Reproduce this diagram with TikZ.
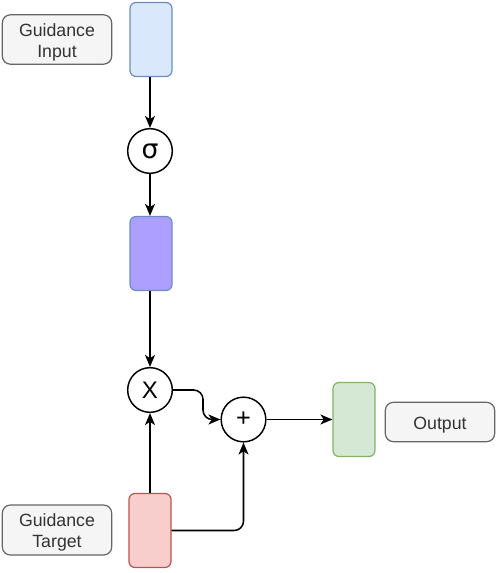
\documentclass[tikz,border=0pt]{standalone}
\usepackage{fontspec}
\setmainfont{Liberation Sans}
\newfontfamily\symfont{DejaVu Sans}
\usetikzlibrary{arrows.meta}
\definecolor{lblfill}{HTML}{F5F5F5}
\definecolor{lbldraw}{HTML}{666666}
\definecolor{bluefill}{HTML}{DAE8FC}
\definecolor{bluedraw}{HTML}{6C8EBF}
\definecolor{purplefill}{HTML}{AC9FFF}
\definecolor{greenfill}{HTML}{D5E8D4}
\definecolor{greendraw}{HTML}{82B366}
\definecolor{redfill}{HTML}{F8CECC}
\definecolor{reddraw}{HTML}{B85450}
\definecolor{txt}{HTML}{333333}
\newcommand{\lbltext}[1]{\raisebox{-2.2pt}[\height][\depth]{\begin{tabular}{@{}c@{}}#1\end{tabular}}}
\tikzset{
  lbl/.style={draw=lbldraw, fill=lblfill, rounded corners=6pt, line width=0.9pt,
    minimum width=82pt, inner sep=0pt, align=center, text=txt,
    font=\fontsize{13.3pt}{15.75pt}\selectfont},
  block/.style={rounded corners=4.5pt, line width=0.9pt, minimum width=31.5pt,
    minimum height=55.5pt, inner sep=0pt},
  op/.style={circle, draw=black, fill=white, line width=1.1pt, minimum size=33.5pt, inner sep=0pt},
  conn/.style={line width=1.15pt, -{Stealth[length=9pt,width=7.5pt,inset=2.5pt]}, rounded corners=7pt}
}
\begin{document}
\begin{tikzpicture}[x=0.75pt,y=-0.75pt]
\useasboundingbox (0,0) rectangle (498,573);
\node[lbl, minimum height=37pt] (gin) at (57,39.5) {\lbltext{Guidance\\Input}};
\node[block, draw=bluedraw, fill=bluefill] (blue) at (151,39.5) {};
\node[op, font=\symfont\fontsize{20pt}{20pt}\selectfont] (sig) at (150,151) {σ};
\node[block, draw=bluedraw, fill=purplefill] (purp) at (151,253.5) {};
\node[op, font=\fontsize{18pt}{18pt}\selectfont] (mul) at (150,390) {X};
\node[op, font=\fontsize{19pt}{19pt}\selectfont] (add) at (243.5,419.5) {+};
\node[block, draw=greendraw, fill=greenfill] (green) at (354,419.5) {};
\node[lbl, minimum height=29.5pt] (out) at (440,422) {\lbltext{Output}};
\node[block, draw=reddraw, fill=redfill] (red) at (150,530.5) {};
\node[lbl, minimum height=37.5pt] (gtg) at (57,530) {\lbltext{Guidance\\Target}};
\draw[conn] (blue.south -| sig.north) -- (sig.north);
\draw[conn] (sig.south) -- (sig.south |- purp.north);
\draw[conn] (purp.south -| mul.north) -- (mul.north);
\draw[conn] (red.north) -- (mul.south);
\coordinate (bend) at (203,390);
\draw[conn] (mul.east) -- (bend) -- (bend |- add.west) -- (add.west);
\draw[conn] (red.east) -- (red.east -| add.south) -- (add.south);
\draw[conn] (add.east) -- (green.west);
\end{tikzpicture}
\end{document}
